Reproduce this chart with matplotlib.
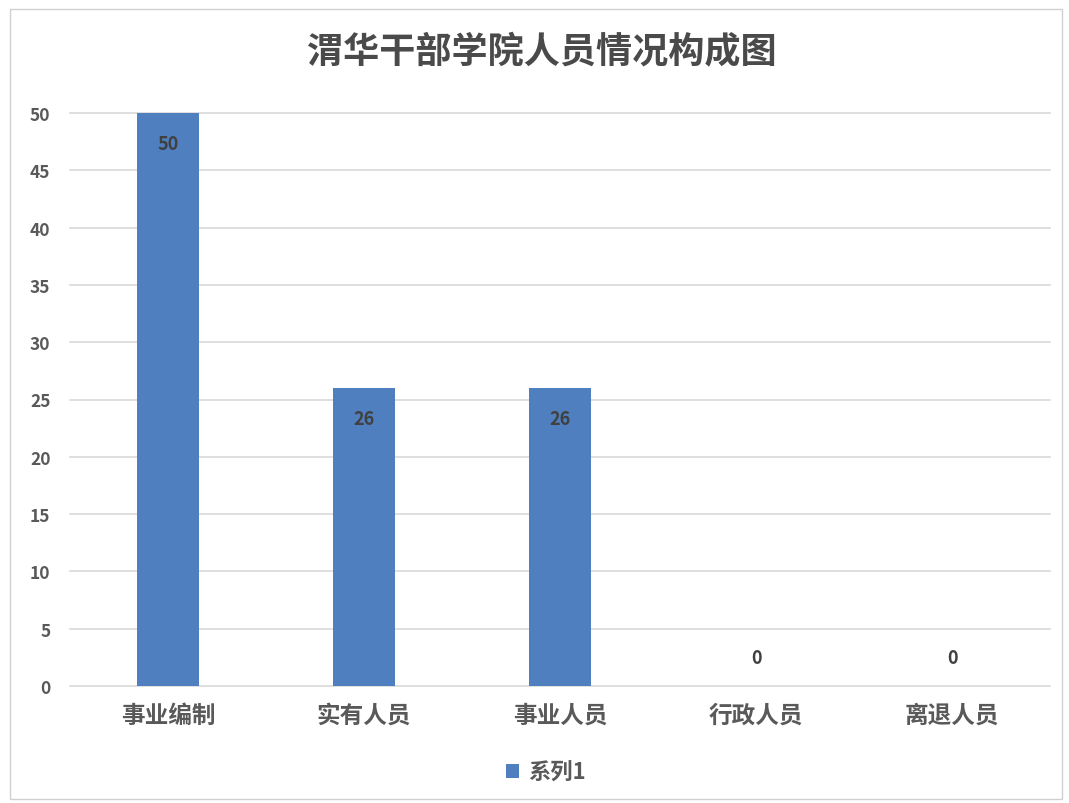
import matplotlib
matplotlib.use("Agg")
import matplotlib.pyplot as plt
from matplotlib.patches import Rectangle

plt.rcParams['font.family'] = ['Noto Sans CJK SC', 'DejaVu Sans']

# Chart data
categories = ["事业编制", "实有人员", "事业人员", "行政人员", "离退人员"]
values = [50, 26, 26, 0, 0]
series_name = "系列1"
title = "渭华干部学院人员情况构成图"

bar_color = "#4F7FBE"
text_color = "#595959"
grid_color = "#D9D9D9"

fig = plt.figure(figsize=(10.69, 8.04), dpi=100)
# outer chart frame
fig.patches.append(Rectangle((10/1069, 4/804), 1052/1069, 790/804,
                             transform=fig.transFigure, fill=False,
                             edgecolor="#D0D0D0", linewidth=1))

ax = fig.add_axes([70/1069, 117/804, 980/1069, 573/804])
x = list(range(len(categories)))
bars = ax.bar(x, values, width=0.32, color=bar_color, zorder=3,
              label=series_name)

ax.set_xlim(-0.5, len(categories) - 0.5)
ax.set_ylim(0, 50)
ax.set_yticks(range(0, 51, 5))
ax.yaxis.grid(True, color=grid_color, linewidth=1.2, zorder=0)
ax.set_axisbelow(True)
for s in ax.spines.values():
    s.set_visible(False)
ax.tick_params(axis='both', length=0, colors=text_color)
ax.tick_params(axis='y', labelsize=12.5, pad=14)
ax.tick_params(axis='x', labelsize=17, pad=12)
for lbl in ax.get_yticklabels():
    lbl.set_fontweight('bold')
ax.set_xticks(x)
ax.set_xticklabels(categories, fontweight='bold')
for gl in ax.get_ygridlines():
    gl.set_clip_on(False)

# data labels inside the bar top
for xi, v in zip(x, values):
    if v > 0:
        ax.text(xi, v - 1.8, str(v), ha='center', va='top', fontsize=13,
                color="#404040", fontweight='bold', zorder=4)
    else:
        ax.text(xi, 1.7, str(v), ha='center', va='bottom', fontsize=13,
                color="#404040", fontweight='bold', zorder=4)

fig.text(542/1069, 1 - 53/804, title, ha='center', va='center', fontsize=26,
         color="#4A4A4A", fontweight='bold')

leg = fig.legend(handles=[bars], labels=[series_name], loc='center',
                 bbox_to_anchor=(546/1069, 1 - 773/804), frameon=False,
                 fontsize=16, handlelength=0.6, handleheight=0.6,
                 handletextpad=0.4)
for t in leg.get_texts():
    t.set_color(text_color)
    t.set_fontweight('bold')

fig.savefig("out.png", dpi=100)
